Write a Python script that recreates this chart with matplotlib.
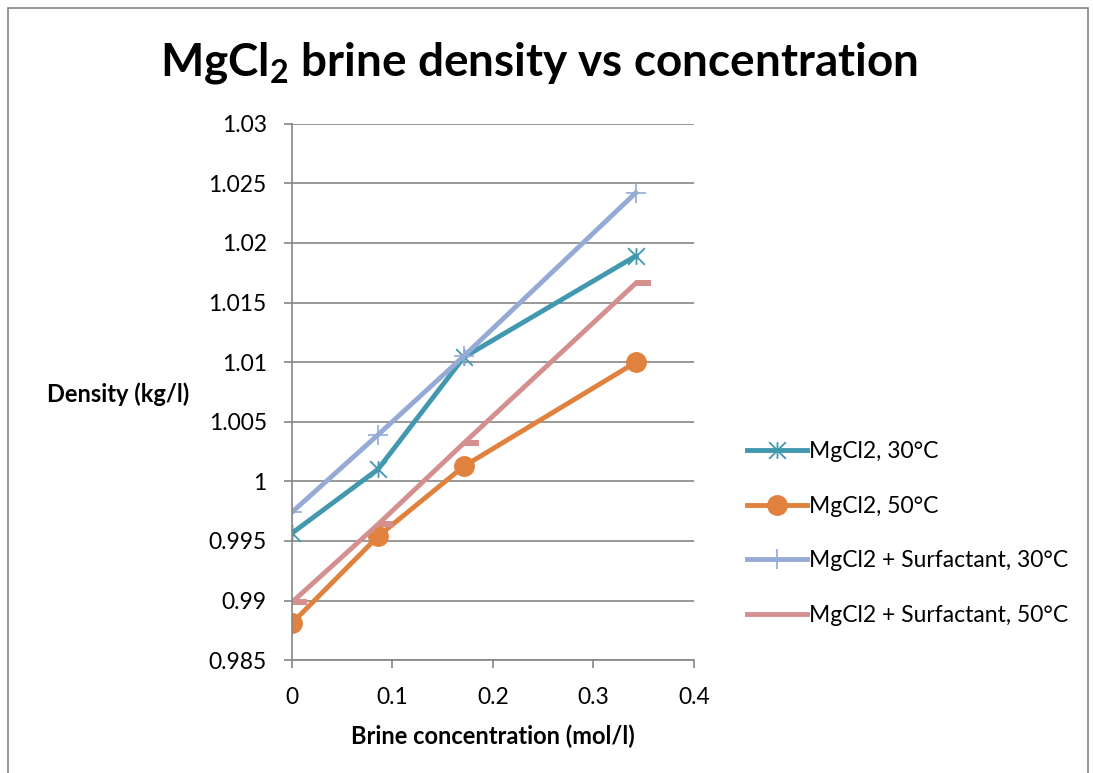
import numpy as np
import matplotlib as mpl
mpl.use('Agg')
import matplotlib.pyplot as plt
from matplotlib.path import Path

mpl.rcParams['font.family'] = ['Lato', 'DejaVu Sans']
mpl.rcParams['mathtext.fontset'] = 'custom'
mpl.rcParams['mathtext.rm'] = 'Lato'
mpl.rcParams['mathtext.bf'] = 'Lato:bold'

conc = [0, 0.0857, 0.171, 0.342]
mg_30 = [0.99564, 1.00101, 1.01040, 1.01890]
mg_50 = [0.98809, 0.99538, 1.00126, 1.00998]
surf_30 = [0.99740, 1.00390, 1.01050, 1.02420]
surf_50 = [0.98985, 0.99639, 1.00320, 1.01661]
labels = ['MgCl2, 30°C', 'MgCl2, 50°C',
          'MgCl2 + Surfactant, 30°C', 'MgCl2 + Surfactant, 50°C']

# excel style markers
star = Path([(-1, -1), (1, 1), (-1, 1), (1, -1), (0, -1), (0, 1)],
            [Path.MOVETO, Path.LINETO, Path.MOVETO, Path.LINETO, Path.MOVETO, Path.LINETO])
dash = Path([(0, -0.18), (1, -0.18), (1, 0.18), (0, 0.18), (0, -0.18)],
            [Path.MOVETO, Path.LINETO, Path.LINETO, Path.LINETO, Path.CLOSEPOLY])

fig = plt.figure(figsize=(10.93, 7.73), dpi=100)
ax = fig.add_axes([0.267, 0.146, 0.368, 0.694])

ax.plot(conc, mg_30, color='#4198af', lw=3.5, marker=star, ms=12, mew=1.3, label=labels[0])
ax.plot(conc, mg_50, color='#e0823d', lw=3.5, marker='o', ms=14, label=labels[1])
ax.plot(conc, surf_30, color='#95abd6', lw=3.5, marker='+', ms=14, mew=1.2, label=labels[2])
ax.plot(conc, surf_50, color='#d4908e', lw=3.5, marker=dash, ms=22, mew=0, label=labels[3])

ax.set_xlim(0, 0.4)
ax.set_ylim(0.985, 1.03)
ax.set_xticks(np.arange(0, 0.41, 0.1))
ax.set_xticklabels(['0', '0.1', '0.2', '0.3', '0.4'])
yt = np.arange(0.985, 1.0301, 0.005)
ax.set_yticks(yt)
ax.set_yticklabels(['0.985', '0.99', '0.995', '1', '1.005', '1.01', '1.015', '1.02', '1.025', '1.03'])
ax.grid(axis='y', color='#868686', lw=1.2)
ax.set_axisbelow(True)
for s in ['top', 'right']:
    ax.spines[s].set_visible(False)
for s in ['left', 'bottom']:
    ax.spines[s].set_color('#868686')
    ax.spines[s].set_linewidth(1.2)
ax.tick_params(colors='#868686', labelcolor='black', labelsize=16.5, length=6, width=1.2)
ax.tick_params(axis='y', pad=12)
ax.tick_params(axis='x', pad=13)

ax.set_xlabel('Brine concentration (mol/l)', fontsize=17, fontweight='bold', labelpad=12)
fig.text(0.043, 0.49, 'Density (kg/l)', fontsize=17, fontweight='bold', va='center', ha='left')
fig.text(0.493, 0.918, r'MgCl$_\mathbf{2}$ brine density vs concentration',
         fontsize=33, fontweight='bold', ha='center', va='center')

leg = ax.legend(loc='center left', bbox_to_anchor=(0.665, 0.31), bbox_transform=fig.transFigure,
                frameon=False, fontsize=16.5, handlelength=2.6, handletextpad=0.1, labelspacing=1.47)
# the dash marker is not visible in the excel legend
leg.get_lines()[3].set_marker('None')

fig.patches.append(plt.Rectangle((0.007, -0.01), 0.988, 1.0, transform=fig.transFigure,
                                 fill=False, edgecolor='#868686', lw=1.2))

fig.savefig('out.png', dpi=100)
